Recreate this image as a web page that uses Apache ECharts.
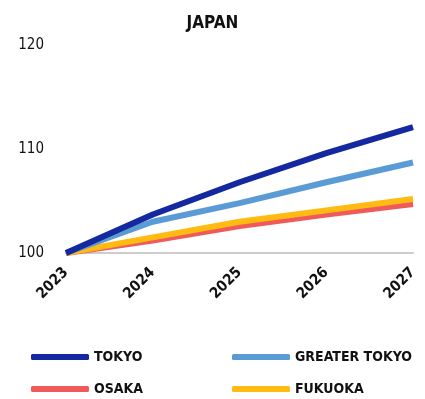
<!DOCTYPE html>
<html><head><meta charset="utf-8">
<script src="https://cdn.jsdelivr.net/npm/echarts@6/dist/echarts.min.js"></script>
<style>html,body{margin:0;padding:0;background:#fff}#c{width:425px;height:399px}</style>
</head><body><div id="c"></div>
<script>
const years = ['2023','2024','2025','2026','2027'];
const tokyo = [100, 103.7, 106.8, 109.6, 112.1];
const greaterTokyo = [100, 103.0, 104.8, 106.8, 108.7];
const osaka = [100, 101.2, 102.6, 103.7, 104.7];
const fukuoka = [100, 101.5, 103.0, 104.1, 105.2];
const yTicks = [100, 110, 120];

const FONT = 'DejaVu Sans Condensed';
const names = ['TOKYO','GREATER TOKYO','OSAKA','FUKUOKA'];
const colors = ['#1428a0','#5b9bd5','#f05a5a','#ffbb11'];
const datas = [tokyo, greaterTokyo, osaka, fukuoka];
const legendPos = [[26,345],[227,345],[26,377],[227,377]];

const chart = echarts.init(document.getElementById('c'));
chart.setOption({
  animation:false,
  title:{text:'JAPAN',left:'center',top:10,textStyle:{fontFamily:FONT,fontSize:17,fontWeight:'bold',color:'#111'}},
  legend: names.map((n,i)=>({data:[n],left:legendPos[i][0],top:legendPos[i][1],itemWidth:58,itemHeight:6,itemGap:0,
    icon:'roundRect',textStyle:{fontFamily:FONT,fontSize:14,fontWeight:'bold',color:'#111',padding:[0,0,0,0]}})),
  grid:{left:66,right:12,top:45,bottom:146},
  xAxis:{type:'category',data:years,boundaryGap:false,
    axisLine:{show:true,lineStyle:{color:'#cccccc',width:2}},axisTick:{show:false},
    axisLabel:{rotate:45,fontFamily:FONT,fontSize:15,fontWeight:'bold',color:'#111',margin:17}},
  yAxis:{type:'value',min:100,max:120,interval:10,
    axisLine:{show:false},axisTick:{show:false},splitLine:{show:false},
    axisLabel:{fontFamily:FONT,fontSize:15,color:'#111',margin:22}},
  series: names.map((n,i)=>({name:n,type:'line',data:datas[i],symbol:'none',smooth:false,
    lineStyle:{width:6,color:colors[i]},itemStyle:{color:colors[i]},z:[4,3,1,2][i]}))
});
</script></body></html>
